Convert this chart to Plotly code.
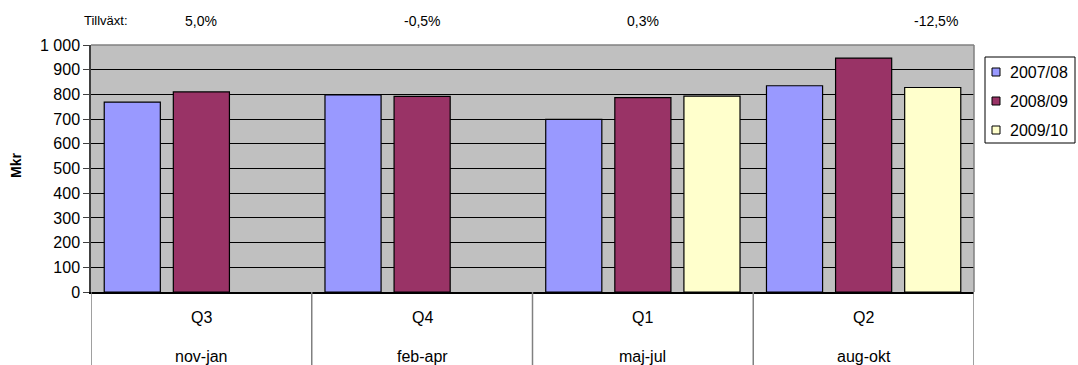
import plotly.graph_objects as go

quarters = ["Q3", "Q4", "Q1", "Q2"]
periods = ["nov-jan", "feb-apr", "maj-jul", "aug-okt"]
series_names = ["2007/08", "2008/09", "2009/10"]
v_2007_08 = [769, 798, 699, 835]
v_2008_09 = [810, 792, 787, 947]
v_2009_10 = [None, None, 793, 828]
growth = ["5,0%", "-0,5%", "0,3%", "-12,5%"]
growth_x = [0.0, 1.0, 2.0, 3.33]
y_ticks = [0, 100, 200, 300, 400, 500, 600, 700, 800, 900, 1000]
y_ticktext = ["0", "100", "200", "300", "400", "500", "600", "700", "800", "900", "1 000"]
colors = ["#9999FF", "#993366", "#FFFFCC"]

FONT = "Liberation Sans, Arial, sans-serif"
xs = list(range(len(quarters)))

# plot area in pixels
L, R, T, B = 91, 974, 45, 292
PW, PH = R - L, B - T


def px(xp):
    return (xp - L) / PW


def py(yp):
    return (B - yp) / PH


fig = go.Figure()
for name, vals, col in zip(series_names, [v_2007_08, v_2008_09, v_2009_10], colors):
    fig.add_trace(go.Bar(
        x=xs, y=vals, name=name, marker=dict(color=col, line=dict(color="black", width=1.2)),
    ))

fig.update_layout(
    width=1078, height=365,
    margin=dict(l=L, r=1078 - R, t=T, b=365 - B),
    paper_bgcolor="white", plot_bgcolor="#C0C0C0",
    barmode="group", bargap=0.061, bargroupgap=0.188,
    font=dict(family=FONT, size=16, color="black"),
    showlegend=False,
)

fig.update_xaxes(range=[-0.5, 3.5], showticklabels=False, showgrid=False, zeroline=False,
                 showline=True, linecolor="black", linewidth=1.5, mirror=False, ticks="")
fig.update_yaxes(range=[0, 1000], tickvals=y_ticks, ticktext=y_ticktext,
                 showgrid=True, gridcolor="black", gridwidth=1, zeroline=False,
                 showline=True, linecolor="#404040", linewidth=1.5,
                 ticks="outside", ticklen=6, tickcolor="#404040",
                 tickfont=dict(size=16, family=FONT))

# y title
fig.add_annotation(x=px(16), xref="paper", y=py(166), yref="paper", text="<b>Mkr</b>",
                   textangle=-90, showarrow=False, font=dict(size=14, family=FONT),
                   xanchor="center", yanchor="middle")

# plot border (top/right)
fig.add_shape(type="line", xref="paper", yref="paper", x0=0, x1=1, y0=1, y1=1,
              line=dict(color="#808080", width=1.5))
fig.add_shape(type="line", xref="paper", yref="paper", x0=1, x1=1, y0=0, y1=1,
              line=dict(color="#808080", width=1.5))

# category separators below plot
for b in [-0.5, 0.5, 1.5, 2.5, 3.5]:
    fig.add_shape(type="line", xref="x", yref="paper", x0=b, x1=b, y0=0, y1=py(366),
                  line=dict(color="#808080", width=1.5))

for i, (q, p) in enumerate(zip(quarters, periods)):
    fig.add_annotation(x=i, xref="x", y=py(317), yref="paper", text=q, showarrow=False,
                       font=dict(size=16, family=FONT), xanchor="center", yanchor="middle")
    fig.add_annotation(x=i, xref="x", y=py(356), yref="paper", text=p, showarrow=False,
                       font=dict(size=16, family=FONT), xanchor="center", yanchor="middle")

fig.add_annotation(x=px(106), xref="paper", y=py(21), yref="paper",
                   text="Tillväxt:", showarrow=False, font=dict(size=13, family=FONT),
                   xanchor="center", yanchor="middle")
for gx, g in zip(growth_x, growth):
    fig.add_annotation(x=gx, xref="x", y=py(21), yref="paper", text=g, showarrow=False,
                       font=dict(size=14, family=FONT), xanchor="center", yanchor="middle")

# legend box
fig.add_shape(type="rect", xref="paper", yref="paper", x0=px(985), x1=px(1075),
              y0=py(57), y1=py(143), line=dict(color="black", width=1), fillcolor="white")
for k, (name, col) in enumerate(zip(series_names, colors)):
    cy = 72 + 29 * k
    fig.add_shape(type="rect", xref="paper", yref="paper", x0=px(992), x1=px(1000),
                  y0=py(cy - 4), y1=py(cy + 4), line=dict(color="black", width=1),
                  fillcolor=col)
    fig.add_annotation(x=px(1008), xref="paper", y=py(cy), yref="paper", text=name,
                       showarrow=False, xanchor="left", yanchor="middle",
                       font=dict(size=16, family=FONT))

fig.write_html("out.html")
